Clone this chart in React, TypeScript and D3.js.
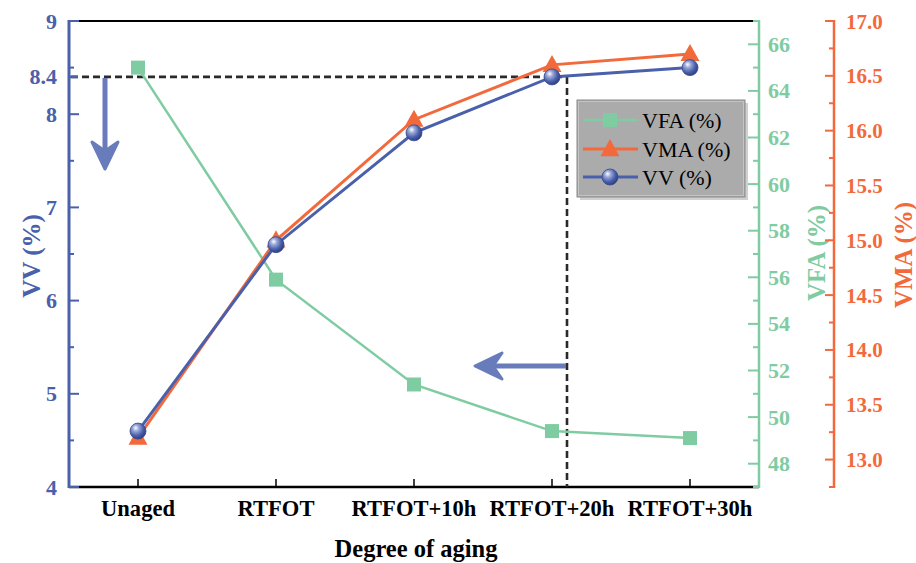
import React from "react";
import * as d3 from "d3";

const categories = ["Unaged", "RTFOT", "RTFOT+10h", "RTFOT+20h", "RTFOT+30h"];
const vvValues = [4.6, 6.6, 7.8, 8.4, 8.5];
const vmaValues = [13.2, 15.0, 16.1, 16.6, 16.7];
const vfaValues = [65.0, 55.9, 51.4, 49.4, 49.1];
const vvTicks = [4, 5, 6, 7, 8, 9];
const vvMinor = [4.5, 5.5, 6.5, 7.5, 8.5];
const vvMarked = 8.4;
const vfaTicks = [48, 50, 52, 54, 56, 58, 60, 62, 64, 66];
const vfaMinor = [47, 49, 51, 53, 55, 57, 59, 61, 63, 65, 67];
const vmaTicks = [13.0, 13.5, 14.0, 14.5, 15.0, 15.5, 16.0, 16.5, 17.0];
const vmaMinor = [12.75, 13.25, 13.75, 14.25, 14.75, 15.25, 15.75, 16.25, 16.75];

const BLUE = "#4a60ab";
const GREEN = "#80cca2";
const ORANGE = "#f26a3c";
const SERIF = "'Liberation Serif', 'Times New Roman', serif";

const L = 69, R = 759, T = 21, B = 487, VMAX = 834;

export default function App() {
  const x = d3.scalePoint<string>().domain(categories).range([L, R]).padding(0.5);
  const yVV = d3.scaleLinear().domain([4, 9]).range([B, T]);
  const yVFA = d3.scaleLinear().domain([47, 67]).range([B, T]);
  const yVMA = d3.scaleLinear().domain([12.75, 17]).range([B, T]);

  const lineVV = d3.line<number>().x((_, i) => x(categories[i])!).y((d) => yVV(d));
  const lineVMA = d3.line<number>().x((_, i) => x(categories[i])!).y((d) => yVMA(d));
  const lineVFA = d3.line<number>().x((_, i) => x(categories[i])!).y((d) => yVFA(d));

  const dashX = x("RTFOT+20h")! + 15;
  const dashY = yVV(vvMarked);

  const tri = (cx: number, cy: number, s = 9.5) =>
    `M${cx},${cy - s * 1.05} L${cx + s},${cy + s * 0.75} L${cx - s},${cy + s * 0.75} Z`;

  const sphere = (cx: number, cy: number, key: string | number) => (
    <circle key={key} cx={cx} cy={cy} r={8} fill="url(#sph)" stroke="#34478a" strokeWidth={0.8} />
  );

  return (
    <svg width={916} height={563} style={{ position: "absolute", left: 0, top: 0, display: "block" }} viewBox="0 0 916 563">
      <defs>
        <radialGradient id="sph" cx="0.38" cy="0.35" r="0.65" fx="0.35" fy="0.3">
          <stop offset="0" stopColor="#ffffff" />
          <stop offset="0.3" stopColor="#9aa8d8" />
          <stop offset="0.7" stopColor="#4a60ab" />
          <stop offset="1" stopColor="#2f4185" />
        </radialGradient>
      </defs>

      {/* frame lines */}
      <line x1={L} x2={R} y1={T} y2={T} stroke="#000" strokeWidth={2} />
      <line x1={L} x2={R} y1={B} y2={B} stroke="#000" strokeWidth={2.5} />

      {/* x ticks */}
      {categories.map((c) => (
        <line key={c} x1={x(c)} x2={x(c)} y1={B} y2={B - 8} stroke="#000" strokeWidth={1.5} />
      ))}
      {categories.map((c) => (
        <text key={"l" + c} transform={`translate(${x(c)},516) scale(0.94,1)`} textAnchor="middle" fontFamily={SERIF} fontWeight="bold" fontSize={24} fill="#000">
          {c}
        </text>
      ))}
      <text x={(L + R) / 2 + 2} y={557} textAnchor="middle" fontFamily={SERIF} fontWeight="bold" fontSize={24.5} fill="#000">
        Degree of aging
      </text>

      {/* left VV axis */}
      <line x1={L} x2={L} y1={T - 1} y2={B + 1} stroke={BLUE} strokeWidth={3} />
      {vvTicks.map((v) => (
        <g key={v}>
          <line x1={L} x2={L + 10} y1={yVV(v)} y2={yVV(v)} stroke={BLUE} strokeWidth={2} />
          <text x={57} y={yVV(v) + 7.5} textAnchor="end" fontFamily={SERIF} fontWeight="bold" fontSize={22} fill={BLUE}>
            {v}
          </text>
        </g>
      ))}
      {vvMinor.map((v) => (
        <line key={v} x1={L} x2={L + 5} y1={yVV(v)} y2={yVV(v)} stroke={BLUE} strokeWidth={2} />
      ))}
      <text x={57} y={yVV(vvMarked) + 7.5} textAnchor="end" fontFamily={SERIF} fontWeight="bold" fontSize={22} fill={BLUE}>
        {vvMarked}
      </text>
      <text transform={`translate(40,${yVV(6.5) + 2}) rotate(-90)`} textAnchor="middle" fontFamily={SERIF} fontWeight="bold" fontSize={25} fill={BLUE}>
        VV (%)
      </text>

      {/* VFA axis */}
      <line x1={R} x2={R} y1={T - 1} y2={B + 1} stroke={GREEN} strokeWidth={2.5} />
      {vfaTicks.map((v) => (
        <g key={v}>
          <line x1={R - 11} x2={R} y1={yVFA(v)} y2={yVFA(v)} stroke={GREEN} strokeWidth={2} />
          <text x={768} y={yVFA(v) + 7.5} textAnchor="start" fontFamily={SERIF} fontWeight="bold" fontSize={22} fill={GREEN}>
            {v}
          </text>
        </g>
      ))}
      {vfaMinor.map((v) => (
        <line key={v} x1={R - 6} x2={R} y1={yVFA(v)} y2={yVFA(v)} stroke={GREEN} strokeWidth={2} />
      ))}
      <text transform={`translate(825,253) rotate(-90)`} textAnchor="middle" fontFamily={SERIF} fontWeight="bold" fontSize={25} fill={GREEN}>
        VFA (%)
      </text>

      {/* VMA axis */}
      <line x1={VMAX} x2={VMAX} y1={T - 1} y2={B + 1} stroke={ORANGE} strokeWidth={2.5} />
      {vmaTicks.map((v) => (
        <g key={v}>
          <line x1={VMAX - 9} x2={VMAX} y1={yVMA(v)} y2={yVMA(v)} stroke={ORANGE} strokeWidth={2} />
          <text x={846} y={yVMA(v) + 7.5} textAnchor="start" fontFamily={SERIF} fontWeight="bold" fontSize={21} fill={ORANGE}>
            {v.toFixed(1)}
          </text>
        </g>
      ))}
      {vmaMinor.map((v) => (
        <line key={v} x1={VMAX - 5} x2={VMAX} y1={yVMA(v)} y2={yVMA(v)} stroke={ORANGE} strokeWidth={2} />
      ))}
      <text transform={`translate(912,255) rotate(-90)`} textAnchor="middle" fontFamily={SERIF} fontWeight="bold" fontSize={25} fill={ORANGE}>
        VMA (%)
      </text>

      {/* dashed guide lines */}
      <line x1={L + 2} x2={dashX} y1={dashY} y2={dashY} stroke="#2a2a2a" strokeWidth={2.6} strokeDasharray="7,4" />
      <line x1={dashX} x2={dashX} y1={dashY} y2={B} stroke="#2a2a2a" strokeWidth={2.6} strokeDasharray="7,4" />
      <line x1={L} x2={L + 9} y1={dashY} y2={dashY} stroke={BLUE} strokeWidth={2.5} />

      {/* series */}
      <path d={lineVFA(vfaValues)!} fill="none" stroke={GREEN} strokeWidth={2.5} />
      {vfaValues.map((v, i) => (
        <rect key={i} x={x(categories[i])! - 7} y={yVFA(v) - 7} width={14} height={14} fill={GREEN} />
      ))}
      <path d={lineVMA(vmaValues)!} fill="none" stroke={ORANGE} strokeWidth={3} />
      {vmaValues.map((v, i) => (
        <path key={i} d={tri(x(categories[i])!, yVMA(v))} fill={ORANGE} />
      ))}
      <path d={lineVV(vvValues)!} fill="none" stroke={BLUE} strokeWidth={3} />
      {vvValues.map((v, i) => sphere(x(categories[i])!, yVV(v), i))}

      {/* arrows */}
      <g fill="#5c71b6" stroke="#5c71b6" opacity={0.92}>
        <line x1={105} x2={105} y1={dashY + 1} y2={158} strokeWidth={5} />
        <path d="M92,142 L105,151 L118,142 L105,169 Z" strokeWidth={3} strokeLinejoin="round" />
        <line x1={566} x2={490} y1={366} y2={366} strokeWidth={5} />
        <path d="M502,353 L493,366 L502,379 L475,366 Z" strokeWidth={3} strokeLinejoin="round" />
      </g>

      {/* legend */}
      <rect x={580} y={103} width={168} height={97} fill="#d0d0d0" />
      <rect x={577} y={100} width={168} height={97} fill="#ababab" stroke="#8a8a8a" strokeWidth={1} />
      <rect x={578.5} y={101.5} width={165} height={94} fill="none" stroke="#c4c4c4" strokeWidth={1} />
      <line x1={583} x2={638} y1={120} y2={120} stroke={GREEN} strokeWidth={2.5} />
      <rect x={603} y={113} width={14} height={14} fill={GREEN} />
      <text x={642} y={127.5} fontFamily={SERIF} fontSize={22} fill="#000">VFA (%)</text>
      <line x1={583} x2={638} y1={149} y2={149} stroke={ORANGE} strokeWidth={3} />
      <path d={tri(610, 149)} fill={ORANGE} />
      <text x={642} y={156.5} fontFamily={SERIF} fontSize={22} fill="#000">VMA (%)</text>
      <line x1={583} x2={638} y1={177} y2={177} stroke={BLUE} strokeWidth={3} />
      {sphere(610, 177, "leg")}
      <text x={642} y={184.5} fontFamily={SERIF} fontSize={22} fill="#000">VV (%)</text>
    </svg>
  );
}
